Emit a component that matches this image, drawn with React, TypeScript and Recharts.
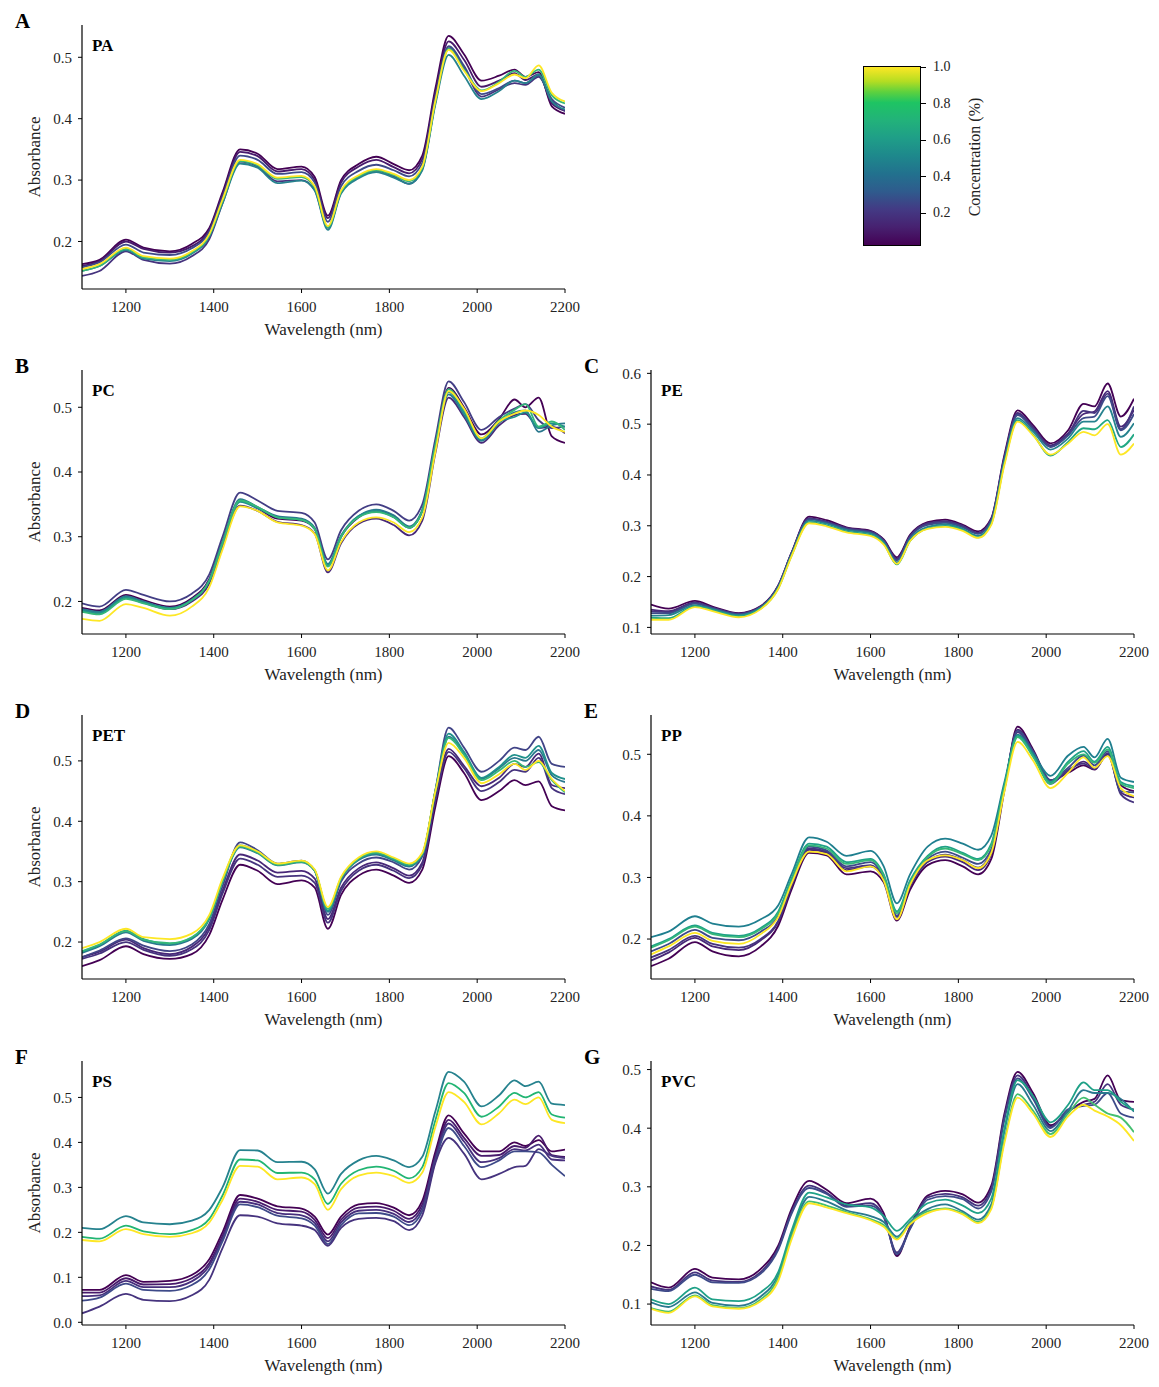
import React from "react";
import { LineChart, Line, XAxis, YAxis } from "recharts";

// NIR spectra, 1100-2200 nm, one panel per polymer
const wavelengths = [1100, 1140, 1200, 1240, 1300, 1350, 1390, 1420, 1460, 1500, 1545, 1600, 1630, 1660, 1690, 1730, 1770, 1810, 1845, 1875, 1905, 1935, 1970, 2010, 2050, 2085, 2110, 2140, 2170, 2200];
const xTicks = [1200, 1400, 1600, 1800, 2000, 2200];

// ── A: PA ──
const paColors = ["#440154", "#481a6c", "#46337e", "#3e4a89", "#26828e", "#35b779", "#fde725"];
const paLines = [
  [.163,.170,.203,.190,.184,.196,.222,.280,.350,.343,.318,.322,.305,.242,.300,.326,.338,.326,.316,.340,.450,.535,.505,.462,.470,.480,.468,.476,.420,.408],
  [.160,.168,.200,.188,.182,.192,.219,.276,.346,.339,.314,.318,.300,.238,.296,.322,.333,.321,.311,.334,.443,.526,.496,.452,.462,.474,.463,.472,.425,.413],
  [.144,.152,.184,.170,.164,.176,.204,.262,.330,.322,.298,.300,.284,.222,.280,.305,.315,.306,.294,.318,.428,.515,.482,.436,.448,.458,.455,.468,.430,.412],
  [.158,.166,.195,.182,.178,.189,.216,.272,.340,.333,.310,.313,.296,.232,.290,.315,.325,.316,.306,.328,.436,.518,.486,.440,.450,.462,.458,.470,.432,.418],
  [.152,.160,.186,.172,.168,.180,.208,.262,.327,.320,.295,.299,.283,.219,.278,.303,.313,.304,.294,.316,.424,.504,.470,.432,.445,.462,.458,.472,.428,.415],
  [.152,.160,.188,.174,.170,.182,.210,.266,.331,.324,.302,.305,.288,.223,.281,.306,.316,.308,.298,.320,.428,.514,.480,.446,.460,.478,.468,.480,.438,.425],
  [.155,.163,.190,.176,.172,.184,.212,.268,.333,.326,.304,.307,.290,.225,.283,.308,.318,.310,.300,.322,.430,.512,.478,.445,.458,.472,.466,.487,.442,.428],
];

// ── B: PC ──
const pcColors = ["#440154", "#433e85", "#482878", "#2a788e", "#21918c", "#35b779", "#fde725"];
const pcLines = [
  [.190,.186,.210,.202,.192,.205,.235,.292,.355,.344,.328,.325,.312,.255,.300,.330,.340,.332,.314,.340,.442,.530,.500,.458,.482,.512,.500,.515,.455,.445],
  [.197,.192,.218,.210,.200,.212,.242,.300,.368,.356,.340,.337,.322,.265,.310,.340,.350,.340,.325,.350,.452,.540,.508,.465,.485,.498,.505,.480,.468,.470],
  [.186,.182,.205,.198,.188,.200,.228,.285,.348,.340,.323,.318,.305,.245,.290,.320,.328,.318,.302,.325,.430,.515,.485,.445,.472,.488,.490,.468,.470,.460],
  [.188,.184,.208,.200,.190,.203,.233,.292,.358,.346,.332,.328,.314,.258,.302,.332,.342,.333,.316,.342,.444,.520,.488,.448,.476,.492,.495,.462,.472,.475],
  [.186,.182,.206,.198,.190,.202,.232,.290,.354,.344,.330,.326,.312,.256,.300,.332,.340,.330,.314,.340,.440,.524,.492,.450,.478,.485,.492,.468,.475,.470],
  [.184,.180,.204,.197,.188,.202,.232,.290,.356,.346,.330,.326,.312,.254,.300,.330,.338,.330,.314,.340,.442,.528,.496,.452,.480,.496,.505,.470,.478,.465],
  [.173,.170,.196,.190,.178,.192,.222,.280,.347,.340,.322,.317,.304,.248,.292,.322,.330,.322,.307,.330,.432,.525,.498,.452,.478,.490,.495,.488,.470,.462],
];

// ── C: PE ──
const peColors = ["#440154", "#482878", "#46337e", "#3e4a89", "#26828e", "#22a884", "#fde725"];
const peLines = [
  [.145,.137,.152,.141,.128,.142,.183,.247,.318,.311,.297,.290,.273,.238,.282,.307,.312,.302,.289,.315,.440,.527,.498,.462,.488,.540,.535,.580,.515,.550],
  [.135,.132,.149,.139,.127,.141,.182,.246,.315,.308,.296,.289,.272,.235,.280,.305,.309,.300,.286,.313,.436,.522,.494,.458,.482,.520,.525,.565,.495,.528],
  [.132,.130,.148,.138,.126,.140,.181,.246,.314,.307,.295,.288,.271,.233,.279,.304,.308,.299,.285,.312,.434,.520,.492,.456,.480,.526,.522,.560,.490,.535],
  [.128,.128,.147,.138,.126,.140,.181,.245,.313,.306,.294,.287,.270,.232,.278,.302,.306,.297,.284,.310,.432,.518,.490,.455,.478,.512,.515,.555,.488,.520],
  [.123,.124,.144,.136,.124,.139,.179,.243,.310,.304,.292,.285,.268,.228,.274,.298,.303,.294,.280,.307,.428,.512,.486,.450,.472,.505,.505,.535,.475,.502],
  [.119,.118,.142,.134,.122,.137,.177,.241,.307,.301,.289,.282,.265,.224,.270,.295,.300,.292,.277,.304,.424,.508,.480,.438,.465,.492,.490,.508,.455,.480],
  [.115,.115,.140,.132,.120,.136,.176,.240,.305,.299,.287,.280,.263,.225,.270,.294,.298,.290,.276,.302,.420,.505,.478,.440,.462,.485,.478,.500,.440,.462],
];

// ── D: PET ──
const petColors = ["#440154", "#482878", "#46337e", "#414487", "#2a788e", "#21918c", "#35b779", "#fde725"];
const petLines = [
  [.160,.170,.193,.180,.172,.180,.212,.270,.328,.318,.296,.302,.290,.222,.278,.310,.320,.310,.298,.320,.425,.508,.480,.435,.450,.468,.460,.466,.425,.418],
  [.175,.184,.204,.190,.180,.192,.225,.285,.345,.335,.315,.318,.305,.238,.290,.322,.332,.322,.310,.332,.440,.520,.492,.458,.472,.495,.490,.512,.460,.455],
  [.172,.181,.200,.187,.177,.188,.220,.280,.338,.328,.308,.310,.298,.232,.285,.318,.328,.318,.306,.328,.435,.515,.488,.450,.465,.485,.482,.505,.455,.445],
  [.175,.186,.206,.194,.185,.196,.230,.292,.365,.352,.330,.335,.318,.245,.300,.330,.340,.332,.320,.342,.452,.555,.522,.482,.500,.522,.518,.540,.495,.490],
  [.182,.193,.216,.202,.195,.205,.238,.300,.357,.347,.327,.332,.318,.250,.304,.336,.345,.335,.325,.344,.450,.540,.512,.470,.488,.505,.500,.518,.476,.465],
  [.184,.195,.219,.205,.197,.207,.240,.302,.360,.350,.329,.334,.319,.252,.305,.338,.347,.337,.327,.345,.452,.545,.515,.472,.490,.510,.505,.525,.480,.470],
  [.185,.196,.218,.204,.198,.208,.240,.300,.358,.348,.328,.333,.318,.255,.306,.338,.348,.338,.328,.346,.450,.538,.510,.468,.484,.500,.490,.498,.468,.448],
  [.190,.200,.222,.208,.205,.214,.245,.305,.360,.350,.330,.335,.320,.258,.308,.340,.350,.340,.330,.348,.450,.530,.505,.463,.478,.495,.485,.500,.470,.450],
];

// ── E: PP ──
const ppColors = ["#440154", "#482878", "#46337e", "#3e4a89", "#1f7f8f", "#1fa187", "#35b779", "#fde725"];
const ppLines = [
  [.156,.168,.195,.180,.172,.188,.222,.280,.340,.336,.305,.310,.292,.230,.280,.320,.328,.318,.305,.330,.442,.545,.508,.458,.470,.482,.475,.500,.450,.440],
  [.165,.178,.202,.188,.182,.198,.228,.285,.345,.340,.312,.318,.296,.236,.285,.325,.334,.325,.312,.338,.445,.540,.505,.455,.472,.488,.478,.500,.438,.430],
  [.170,.182,.205,.192,.186,.200,.230,.287,.347,.342,.315,.320,.298,.237,.286,.326,.337,.328,.316,.342,.446,.536,.502,.452,.475,.485,.476,.502,.435,.422],
  [.180,.192,.215,.202,.198,.212,.238,.293,.350,.344,.318,.325,.300,.238,.290,.330,.342,.332,.322,.346,.448,.538,.505,.458,.478,.498,.482,.505,.440,.438],
  [.203,.212,.237,.225,.220,.232,.255,.305,.365,.358,.335,.343,.318,.258,.305,.350,.363,.355,.345,.368,.455,.532,.502,.465,.498,.512,.495,.525,.462,.455],
  [.188,.200,.222,.210,.205,.218,.245,.298,.355,.350,.325,.330,.305,.245,.295,.335,.350,.340,.330,.355,.450,.530,.498,.455,.488,.505,.488,.512,.455,.448],
  [.186,.198,.220,.208,.203,.216,.242,.295,.352,.347,.322,.328,.303,.242,.292,.333,.347,.338,.328,.352,.448,.528,.496,.452,.485,.500,.486,.508,.452,.445],
  [.175,.188,.210,.197,.192,.208,.236,.290,.342,.338,.310,.318,.295,.232,.288,.328,.336,.328,.315,.340,.440,.520,.490,.445,.470,.495,.478,.497,.445,.432],
];

// ── F: PS ──
const psColors = ["#440154", "#481a6c", "#472f7d", "#3e4a89", "#46337e", "#26828e", "#22b573", "#fde725"];
const psLines = [
  [.072,.072,.105,.090,.092,.105,.140,.200,.283,.275,.258,.253,.235,.195,.235,.262,.265,.255,.238,.270,.380,.460,.420,.380,.380,.400,.392,.405,.380,.384],
  [.066,.066,.098,.084,.085,.098,.132,.192,.275,.268,.250,.246,.228,.187,.228,.255,.257,.248,.230,.262,.372,.450,.410,.370,.372,.392,.388,.415,.372,.368],
  [.058,.060,.092,.078,.078,.091,.126,.186,.268,.262,.243,.238,.221,.180,.222,.248,.250,.241,.223,.255,.366,.442,.402,.356,.365,.385,.382,.395,.362,.360],
  [.048,.055,.086,.072,.070,.083,.118,.180,.262,.256,.237,.231,.215,.174,.216,.242,.243,.235,.216,.248,.360,.432,.392,.345,.360,.380,.380,.378,.350,.325],
  [.020,.035,.063,.050,.047,.060,.095,.165,.238,.235,.220,.215,.205,.170,.210,.230,.232,.225,.205,.238,.355,.410,.375,.318,.330,.345,.348,.385,.370,.365],
  [.210,.207,.236,.222,.218,.226,.250,.300,.383,.382,.356,.357,.340,.286,.330,.360,.370,.360,.345,.368,.470,.557,.535,.480,.505,.538,.525,.535,.486,.483],
  [.190,.186,.215,.202,.196,.205,.230,.282,.362,.360,.332,.333,.318,.263,.308,.338,.346,.337,.320,.345,.450,.532,.510,.457,.480,.510,.500,.512,.462,.455],
  [.183,.180,.207,.196,.190,.198,.222,.272,.348,.346,.318,.322,.307,.250,.296,.326,.333,.325,.310,.333,.435,.512,.490,.440,.465,.495,.485,.500,.450,.443],
];

// ── G: PVC ──
const pvcColors = ["#440154", "#46337e", "#3e4a89", "#2a788e", "#1fa187", "#44bf70", "#fde725"];
const pvcLines = [
  [.137,.128,.160,.145,.142,.160,.200,.262,.310,.295,.272,.280,.255,.182,.232,.285,.293,.287,.273,.302,.425,.496,.460,.405,.428,.445,.450,.490,.448,.445],
  [.130,.124,.154,.140,.138,.155,.196,.257,.302,.290,.268,.272,.250,.188,.230,.282,.288,.282,.268,.297,.420,.490,.455,.402,.430,.440,.445,.475,.440,.432],
  [.126,.122,.150,.137,.136,.152,.193,.254,.298,.288,.266,.268,.248,.185,.228,.278,.284,.279,.263,.292,.415,.485,.450,.400,.432,.438,.440,.460,.425,.418],
  [.103,.095,.120,.102,.097,.113,.150,.220,.283,.275,.260,.250,.240,.215,.240,.262,.270,.258,.244,.270,.395,.475,.440,.395,.430,.465,.460,.460,.450,.428],
  [.108,.100,.128,.108,.105,.120,.155,.225,.290,.282,.270,.265,.250,.225,.245,.272,.278,.268,.255,.280,.400,.482,.455,.410,.440,.478,.465,.465,.445,.430],
  [.093,.087,.115,.098,.093,.108,.145,.215,.275,.268,.257,.245,.235,.212,.238,.258,.263,.255,.240,.265,.380,.458,.430,.390,.425,.452,.440,.425,.418,.393],
  [.092,.085,.113,.096,.092,.105,.140,.210,.272,.265,.255,.243,.232,.210,.236,.255,.262,.253,.238,.262,.375,.452,.425,.385,.420,.440,.430,.420,.405,.378],
];

// colour bar (concentration)
const cbarTicks = [0.2, 0.4, 0.6, 0.8, 1.0];

const FONT = '"Liberation Serif", "Times New Roman", serif';
const PLOT_W = 483;
const PLOT_H = 264;
const YW = 70;
const XH = 60;
const RM = 40;
const TM = 12;

type PanelProps = {
  letter: string;
  name: string;
  lines: number[][];
  colors: string[];
  left: number;
  top: number;
  domain: [number, number];
  yTicks: number[];
  yLabel?: boolean;
};

function Panel({ letter, name, lines, colors, left, top, domain, yTicks, yLabel }: PanelProps) {
  const rows = wavelengths.map((w, i) => {
    const r: Record<string, number> = { w };
    lines.forEach((l, j) => { r["s" + j] = l[i]; });
    return r;
  });
  const tick = { fill: "#222", fontSize: 15, fontFamily: FONT };
  return (
    <>
      <div style={{ position: "absolute", left: left - YW, top: top - TM }}>
        <LineChart width={PLOT_W + YW + RM} height={PLOT_H + XH + TM} data={rows}
          margin={{ top: TM, right: RM, bottom: 0, left: 0 }}>
          <XAxis dataKey="w" type="number" domain={[1100, 2200]} ticks={xTicks} allowDataOverflow
            height={XH} tickSize={4} tickMargin={8} tick={tick} interval={0}
            axisLine={{ stroke: "#000", strokeWidth: 1.2 }} tickLine={{ stroke: "#000" }} />
          <YAxis type="number" domain={domain} ticks={yTicks} allowDataOverflow width={YW}
            tickSize={4} tickMargin={6} tick={tick} interval={0} tickFormatter={(v: number) => v.toFixed(1)}
            axisLine={{ stroke: "#000", strokeWidth: 1.2 }} tickLine={{ stroke: "#000" }} />
          {lines.map((_, j) => (
            <Line key={j} dataKey={"s" + j} type="monotone" stroke={colors[j]} strokeWidth={1.8}
              dot={false} isAnimationActive={false} />
          ))}
        </LineChart>
      </div>
      <div style={{ position: "absolute", left: left - 67, top: top - 16, fontFamily: FONT, fontWeight: 700, fontSize: 21 }}>
        {letter}
      </div>
      <div style={{ position: "absolute", left: left + 10, top: top + 11, fontFamily: FONT, fontWeight: 700, fontSize: 17 }}>
        {name}
      </div>
      <div style={{
        position: "absolute", left: left + PLOT_W / 2, top: top + PLOT_H + 41,
        transform: "translate(-50%, -50%)", fontFamily: FONT, fontSize: 17, whiteSpace: "nowrap", color: "#222",
      }}>
        Wavelength (nm)
      </div>
      {yLabel && (
        <div style={{
          position: "absolute", left: left - 47, top: top + PLOT_H / 2,
          transform: "translate(-50%, -50%) rotate(-90deg)", fontFamily: FONT, fontSize: 17, whiteSpace: "nowrap", color: "#222",
        }}>
          Absorbance
        </div>
      )}
    </>
  );
}

function ColorBar() {
  const gradient = "linear-gradient(to top, #440154 0%, #472170 10%, #433a84 20%, #2f5b8d 30%, #22718e 40%, #1e888c 50%, #1f9e88 60%, #22b27a 70%, #1ec463 80%, #5ed13e 86%, #b5dd22 92%, #fde725 100%)";
  return (
    <>
      <div style={{
        position: "absolute", left: 863, top: 66, width: 58, height: 180,
        background: gradient, border: "1.5px solid #000", boxSizing: "border-box",
      }} />
      {cbarTicks.map(t => {
        const y = 249.5 - t * 182.5;
        return (
          <React.Fragment key={t}>
            <div style={{ position: "absolute", left: 921, top: y - 0.5, width: 5, height: 1, background: "#000" }} />
            <div style={{
              position: "absolute", left: 933, top: y, transform: "translateY(-50%)",
              fontFamily: FONT, fontSize: 14, color: "#222",
            }}>{t.toFixed(1)}</div>
          </React.Fragment>
        );
      })}
      <div style={{
        position: "absolute", left: 975, top: 157, transform: "translate(-50%, -50%) rotate(-90deg)",
        fontFamily: FONT, fontSize: 16, whiteSpace: "nowrap", color: "#222",
      }}>
        Concentration (%)
      </div>
    </>
  );
}

export default function App() {
  return (
    <div style={{ position: "absolute", left: 0, top: 0, width: 1159, height: 1387, background: "#fff", overflow: "hidden" }}>
      <Panel letter="A" name="PA" lines={paLines} colors={paColors} left={82} top={25}
        domain={[0.1226, 0.5526]} yTicks={[0.2, 0.3, 0.4, 0.5]} yLabel />
      <ColorBar />
      <Panel letter="B" name="PC" lines={pcLines} colors={pcColors} left={82} top={370}
        domain={[0.1497, 0.5576]} yTicks={[0.2, 0.3, 0.4, 0.5]} yLabel />
      <Panel letter="C" name="PE" lines={peLines} colors={peColors} left={651} top={370}
        domain={[0.087, 0.6066]} yTicks={[0.1, 0.2, 0.3, 0.4, 0.5, 0.6]} />
      <Panel letter="D" name="PET" lines={petLines} colors={petColors} left={82} top={715}
        domain={[0.1388, 0.576]} yTicks={[0.2, 0.3, 0.4, 0.5]} yLabel />
      <Panel letter="E" name="PP" lines={ppLines} colors={ppColors} left={651} top={715}
        domain={[0.1351, 0.5638]} yTicks={[0.2, 0.3, 0.4, 0.5]} />
      <Panel letter="F" name="PS" lines={psLines} colors={psColors} left={82} top={1061}
        domain={[-0.006, 0.581]} yTicks={[0, 0.1, 0.2, 0.3, 0.4, 0.5]} yLabel />
      <Panel letter="G" name="PVC" lines={pvcLines} colors={pvcColors} left={651} top={1061}
        domain={[0.0643, 0.5146]} yTicks={[0.1, 0.2, 0.3, 0.4, 0.5]} />
    </div>
  );
}
